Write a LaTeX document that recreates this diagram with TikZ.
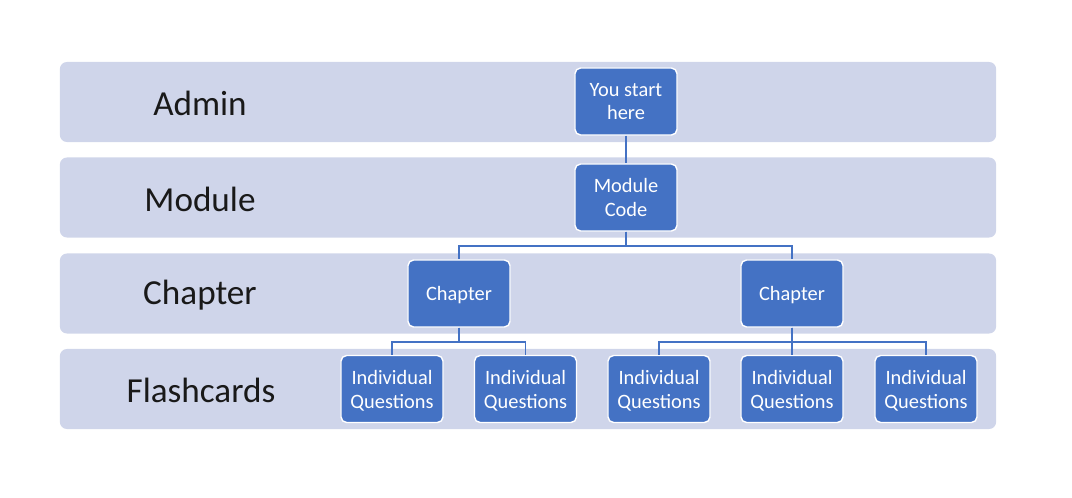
\documentclass[tikz,border=0pt]{standalone}
\usepackage{fontspec}
\setmainfont{Carlito}
\definecolor{bandfill}{HTML}{CFD5EA}
\definecolor{boxblue}{HTML}{4472C4}
\tikzset{
  band/.style={fill=bandfill, rounded corners=5pt, minimum width=23.4cm, minimum height=2cm, inner sep=0pt},
  levellabel/.style={font=\fontsize{25}{29}\selectfont, text=black!90},
  card/.style={fill=boxblue, draw=white, line width=1pt, rounded corners=4pt, minimum width=2.55cm, minimum height=1.675cm, text=white, align=center, font=\fontsize{14.5}{17}\selectfont, inner sep=1pt, text depth=-1.5pt},
  link/.style={draw=boxblue, line width=1.3pt}
}
\begin{document}
\begin{tikzpicture}[x=0.025cm, y=-0.025cm]
  \useasboundingbox (0,0) rectangle (1072,498);
  % level bands
  \node[band] (bandA) at (528,102) {};% admin
  \node[band] (bandM) at (528,197.5) {};% module
  \node[band] (bandC) at (528,293.5) {};% chapter
  \node[band] (bandF) at (528,389) {};% flashcards

  \node[levellabel] (labA) at (200,103) {Admin};
  \node[levellabel] (labM) at (200,199) {Module};
  \node[levellabel] (labC) at (200,295) {Chapter};
  \node[levellabel] (labF) at (201,390) {Flashcards};

  % tree
  \node[card] (start) at (626,101.5) {You start\\here};
  \node[card] (module) at (626,197.5) {Module\\Code};
  \node[card] (chapL) at (459,293.5) {Chapter};
  \node[card] (chapR) at (792,293.5) {Chapter};
  \node[card] (qA) at (392,389) {Individual\\Questions};
  \node[card] (qB) at (525.5,389) {Individual\\Questions};
  \node[card] (qC) at (659,389) {Individual\\Questions};
  \node[card] (qD) at (792,389) {Individual\\Questions};
  \node[card] (qE) at (926,389) {Individual\\Questions};

  \draw[link] (start.south) -- (module.north);
  \draw[link] (module.south) -- ++(0,14) -| (chapL.north);
  \draw[link] (module.south) -- ++(0,14) -| (chapR.north);
  \draw[link] (chapL.south) -- ++(0,14) -| (qA.north);
  \draw[link] (chapL.south) -- ++(0,14) -| (qB.north);
  \draw[link] (chapR.south) -- ++(0,14) -| (qC.north);
  \draw[link] (chapR.south) -- (qD.north);
  \draw[link] (chapR.south) -- ++(0,14) -| (qE.north);
\end{tikzpicture}
\end{document}
